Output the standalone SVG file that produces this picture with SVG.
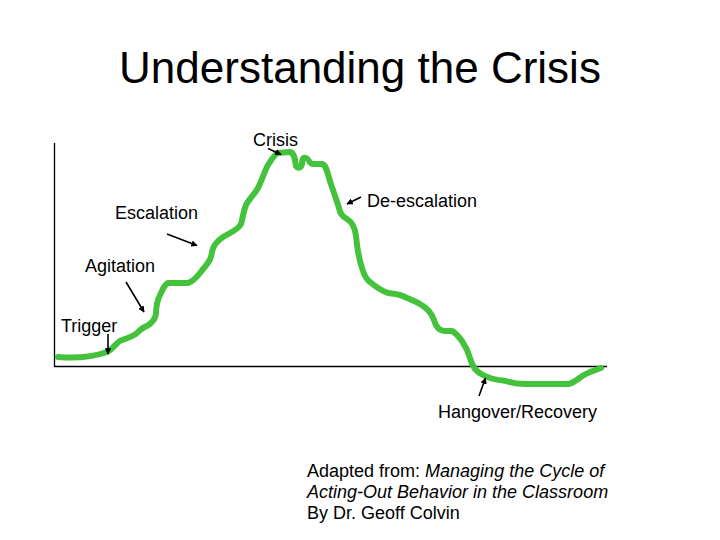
<svg xmlns="http://www.w3.org/2000/svg" width="720" height="540" viewBox="0 0 720 540">
<style>
text{font-family:"Liberation Sans",Arial,sans-serif;fill:#000}
.lbl{font-size:18px}
.it{font-style:italic}
.ax{stroke:#000;stroke-width:1.3;fill:none}
.arr{stroke:#000;stroke-width:1.6;fill:none;marker-end:url(#ah)}
.curve{stroke:#44c23c;stroke-width:6;fill:none;stroke-linecap:round;stroke-linejoin:round}
</style>
<defs>
<marker id="ah" viewBox="0 0 10 10" refX="9" refY="5" markerWidth="4" markerHeight="4" orient="auto" markerUnits="strokeWidth">
<path d="M0,0 L10,5 L0,10 z" fill="#000"/>
</marker>
</defs>
<rect width="720" height="540" fill="#fff"/>
<text id="title" x="360" y="83" font-size="44" text-anchor="middle">Understanding the Crisis</text>
<g id="axes">
<path class="ax" d="M54.5,143 V366.5 H607"/>
</g>
<g id="curve">
<path class="curve" d="M58,357 C70,358 90,358 107,352 C114,349 116,342 122,340 C128,338 132,337 137,333 C141,329 143,327 147,326 C152,323 155,320 156,314 C156,307 157,301 160,295 C163,289 164,285 168,283 L188,283 C195,281 199,274 204,268 C208,263 211,260 212,252 C213,246 217,241 223,237 C231,232 238,230 241,224 C243,218 243,212 246,205 C249,199 254,195 258,188 C262,180 265,170 268,165 C271,160 274,156 277,153 L290,152 C294,153 295,158 296,166 C298,169 301,168 302,164 C302,159 303,157 306,158 C309,159 309,163 312,164 L322,164 C326,165 327,171 329,178 C332,188 336,198 339,208 C340,214 343,217 347,219 C352,222 355,227 356,236 C357,247 359,259 362,268 C364,275 366,279 370,282 C376,287 382,291 388,293 C394,294 399,294 405,297 C412,300 418,302 423,306 C429,310 432,314 434,320 C436,327 439,331 445,331 L452,331 C456,333 459,337 462,341 C466,347 468,351 470,358 C472,366 476,372 483,375 C490,379 497,380 506,381 C512,383 517,384 526,384 L569,384 C575,382 579,378 584,375 C589,372 595,370 601,368"/>
</g>
<g id="connectors">
<line class="arr" x1="268" y1="148.5" x2="281" y2="154.5"/>
<line class="arr" x1="167" y1="234" x2="197" y2="245.5"/>
<line class="arr" x1="126" y1="282" x2="144" y2="312"/>
<line class="arr" x1="108" y1="334" x2="108" y2="354"/>
<line class="arr" x1="361" y1="197" x2="347" y2="204"/>
<line class="arr" x1="479" y1="396" x2="485.5" y2="378"/>
</g>
<g id="label-crisis"><text class="lbl" x="253" y="146">Crisis</text></g>
<g id="label-escalation"><text class="lbl" x="115" y="219">Escalation</text></g>
<g id="label-agitation"><text class="lbl" x="85" y="272">Agitation</text></g>
<g id="label-trigger"><text class="lbl" x="61" y="332">Trigger</text></g>
<g id="label-deescalation"><text class="lbl" x="367" y="207">De-escalation</text></g>
<g id="label-hangover"><text class="lbl" x="438" y="418">Hangover/Recovery</text></g>
<g id="credit">
<text class="lbl" x="307" y="477">Adapted from: <tspan class="it">Managing the Cycle of</tspan></text>
<text class="lbl it" x="307" y="498">Acting-Out Behavior in the Classroom</text>
<text class="lbl" x="307" y="519">By Dr. Geoff Colvin</text>
</g>
</svg>
